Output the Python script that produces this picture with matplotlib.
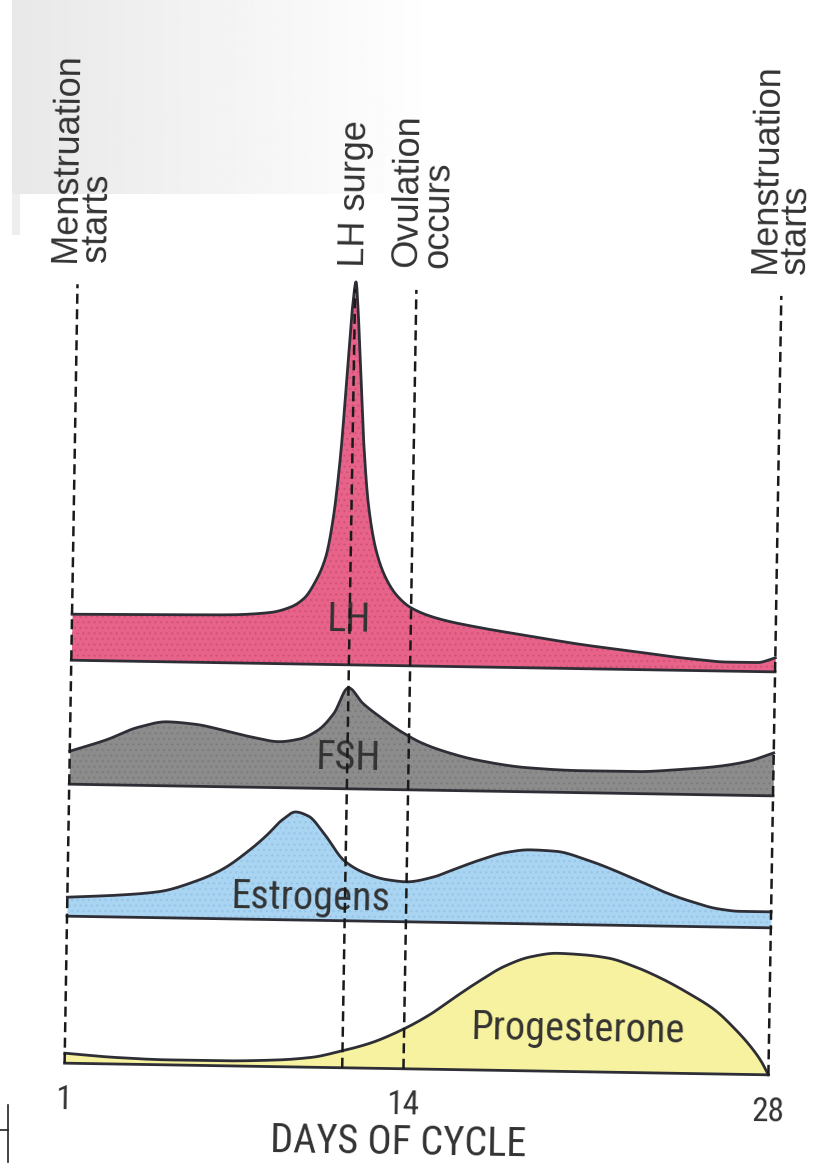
import numpy as np
import matplotlib
matplotlib.use("Agg")
import matplotlib.pyplot as plt
import matplotlib.transforms as mtransforms
from matplotlib import font_manager

# hormone levels (height above each band's baseline) by day of cycle
lh_days = [1, 4, 7, 8.6, 9.4, 9.9, 10.3, 10.7, 10.95, 11.2, 11.42, 11.57, 11.68, 11.77, 11.9,
           12.08, 12.3, 12.62, 13.0, 13.45, 14.0, 15.0, 16.5, 18.5, 20.6, 22.6, 24.6, 26.2, 27.3, 28]
lh_level = [46, 47, 48, 51, 57, 66, 82, 108, 145, 210, 300, 360, 383, 358, 300,
            222, 160, 115, 88, 70, 58, 48, 40, 32, 24, 18, 12, 9, 9, 14]

fsh_days = [1, 2.4, 3.6, 4.7, 5.8, 6.8, 8.0, 9.0, 9.8, 10.5, 11.1, 11.65, 12.2, 12.9,
            13.7, 14.5, 15.5, 16.6, 18.6, 20.6, 22.7, 24.5, 25.7, 27.0, 28]
fsh_level = [33, 45, 58, 64, 62, 57, 50, 46, 49, 58, 75, 101, 86, 72,
             58, 47, 38, 31, 24, 22, 22, 25, 28, 34, 43]

est_days = [1, 3, 4.5, 6.0, 6.9, 8.0, 8.6, 9.2, 9.7, 10.2, 10.8, 11.6, 12.4, 13.2, 14.0,
            15.0, 15.7, 16.8, 17.8, 18.7, 19.7, 21.0, 22.8, 24.0, 24.8, 26.0, 26.8, 28]
est_level = [19, 22, 26, 38, 49, 70, 84, 100, 108, 104, 87, 60, 48, 42, 40,
             45, 52, 63, 71, 74, 73, 64, 46, 33, 26, 18, 16, 16]

prog_days = [1, 3, 5, 7, 9, 10.5, 11.5, 12.7, 14.0, 15.0, 15.8, 16.8, 17.8, 18.8, 19.8,
             20.8, 21.8, 22.8, 23.8, 24.9, 25.9, 26.7, 27.3, 27.7, 28]
prog_level = [10, 6.5, 5, 5, 6.5, 10, 16, 25, 40, 55, 70, 88, 104, 114, 118,
              117, 114, 106, 95, 80, 64, 45, 28, 14, 0]

hormones = ["LH", "FSH", "Estrogens", "Progesterone"]
events = ["Menstruation\nstarts", "LH surge", "Ovulation\noccurs", "Menstruation\nstarts"]
event_days = [1, 11.65, 14, 28]
tick_days = [1, 14, 28]


def pchip(x, y, xs):
    x = np.asarray(x, float)
    y = np.asarray(y, float)
    h = np.diff(x)
    d = np.diff(y) / h
    m = np.zeros_like(y)
    for k in range(1, len(x) - 1):
        if d[k - 1] * d[k] > 0:
            w1 = 2 * h[k] + h[k - 1]
            w2 = h[k] + 2 * h[k - 1]
            m[k] = (w1 + w2) / (w1 / d[k - 1] + w2 / d[k])
    m[0] = d[0]
    m[-1] = d[-1]
    i = np.clip(np.searchsorted(x, xs) - 1, 0, len(h) - 1)
    t = (xs - x[i]) / h[i]
    return ((2 * t**3 - 3 * t**2 + 1) * y[i] + (t**3 - 2 * t**2 + t) * h[i] * m[i]
            + (-2 * t**3 + 3 * t**2) * y[i + 1] + (t**3 - t**2) * h[i] * m[i + 1])


# condensed face for the labels if one is installed
names = {f.name for f in font_manager.fontManager.ttflist}
narrow = None
for cand in ["Liberation Sans Narrow", "Roboto Condensed", "Open Sans Condensed", "DejaVu Sans Condensed"]:
    if cand in names:
        narrow = cand
        break
if narrow:
    cond = [narrow, "Liberation Sans"]
    band_fs, tick_fs, xlab_fs = 29, 24, 29
else:
    cond = ["Liberation Sans", "DejaVu Sans"]
    band_fs, tick_fs, xlab_fs = 25, 23, 25

fig = plt.figure(figsize=(8.25, 11.68), dpi=100)

# scanned page look: grey block top left
bg = fig.add_axes([0, 0, 1, 1])
bg.set_xlim(0, 825)
bg.set_ylim(1168, 0)
bg.axis("off")
grad = np.linspace(0.91, 1.0, 300)[None, :]
bg.imshow(grad, extent=(12, 440, 194, 0), cmap="gray", vmin=0, vmax=1, aspect="auto")
bg.imshow(np.full((1, 1), 0.93), extent=(12, 20, 235, 194), cmap="gray", vmin=0, vmax=1,
          aspect="auto")
bg.plot([8, 8], [1105, 1162], color="#222222", lw=1.2)
bg.plot([0, 8], [1130, 1130], color="#222222", lw=1.2)

ax = fig.add_axes([0, 0, 1, 1])
ax.axis("off")
# the scan is tilted slightly clockwise
tilt = -0.95
tr = ax.transData + mtransforms.Affine2D().rotate_deg_around(420, 488, tilt)

series = [(lh_days, lh_level), (fsh_days, fsh_level), (est_days, est_level), (prog_days, prog_level)]
bases = [502, 378, 246, 99]
colors = ["#e8638a", "#8c8c8c", "#a9d4f2", "#f7f29f"]
dots = ["#b8405f", "#6a6a6a", "#7fb3d8", "#f7f29f"]
label_pos = [(11.63, 547), (11.71, 409), (10.34, 268), (20.67, 141)]
ink = "#2e2e36"

xs = np.linspace(1, 28, 1500)
for (d, lv), base, c, dc, name, (lx, ly) in zip(series, bases, colors, dots, hormones, label_pos):
    top = base + pchip(d, lv, xs)
    ax.fill_between(xs, base, top, color=c, lw=0, transform=tr, zorder=1)
    ax.fill_between(xs, base, top, facecolor="none", edgecolor=dc, lw=0, hatch="...",
                    alpha=0.35, transform=tr, zorder=1.5)
    ax.plot(xs, top, color=ink, lw=2, transform=tr, zorder=3)
    ax.plot(xs, np.full_like(xs, base), color=ink, lw=2, transform=tr, zorder=3)
    ax.text(lx, ly, name, transform=tr, rotation=tilt, ha="center", va="center",
            fontsize=band_fs, color="#333333", family=cond, zorder=4)

for d in event_days:
    ax.plot([d, d], [bases[-1], 878], color="#1a1a1a", lw=1.8, ls=(0, (4, 2.2)),
            transform=tr, zorder=5)

event_x = [1.18, 11.67, 14.27, 28.02]
for x, ev in zip(event_x, events):
    ax.text(x, 900, ev, transform=tr, rotation=90 + tilt, ha="center", va="bottom",
            multialignment="left", linespacing=0.84, fontsize=26, color="#333333",
            family=["Liberation Sans", "DejaVu Sans"])

for d in tick_days:
    ax.text(d, 62, str(d), transform=tr, rotation=tilt, ha="center", va="center",
            fontsize=tick_fs, color="#333333", family=cond)
ax.text(13.84, 25, "DAYS OF CYCLE", transform=tr, rotation=tilt, ha="center", va="center",
        fontsize=xlab_fs, color="#333333", family=cond)

ax.set_xlim(1 - 71 / 26.07, 1 + 754 / 26.07)
ax.set_ylim(0, 1168)

fig.savefig("out.png", dpi=100)
